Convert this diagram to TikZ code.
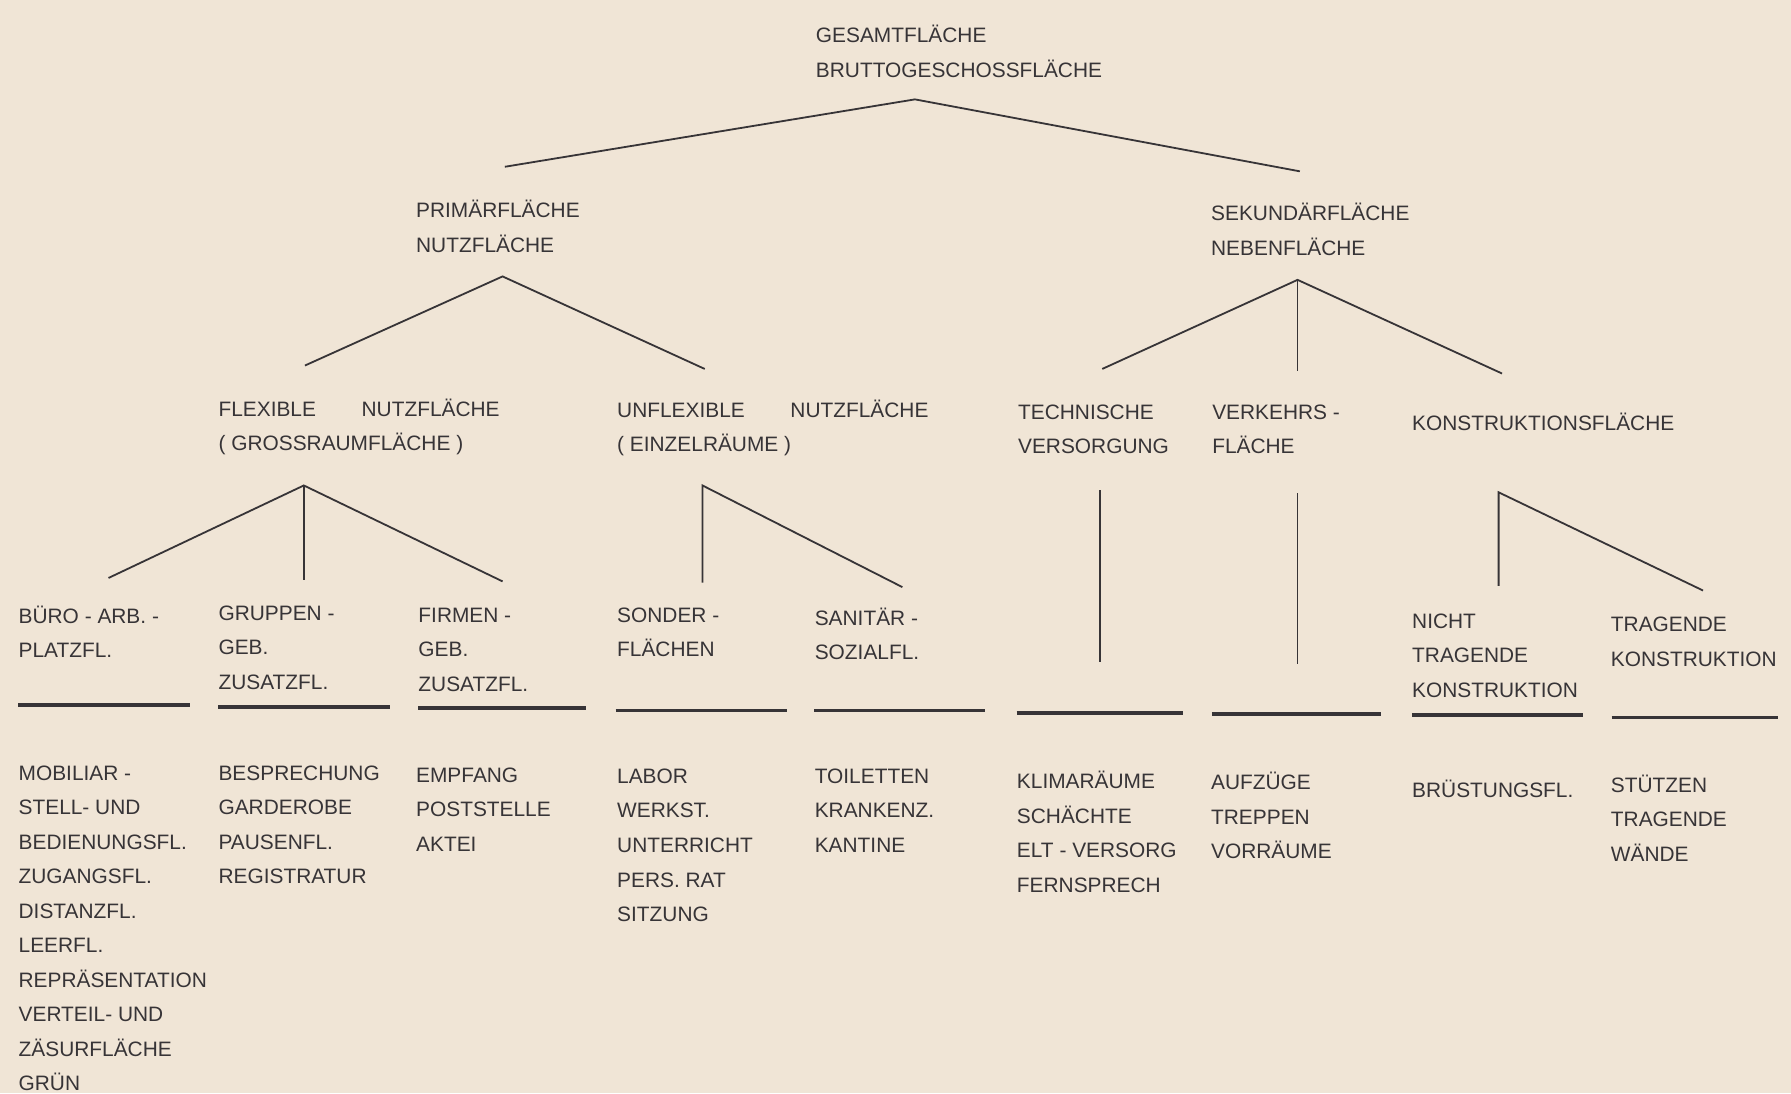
\documentclass[tikz,border=0pt]{standalone}
\usepackage{fontspec}
\setmainfont{Liberation Sans}
\usepackage{tikz}
\usetikzlibrary{positioning}
\definecolor{paper}{RGB}{240,229,214}
\definecolor{ink}{RGB}{55,52,55}

\begin{document}
\begin{tikzpicture}[
    x=0.02cm, y=-0.02cm,
    lbl/.style={anchor=north west,inner sep=0pt,align=left,text=ink,
                font=\fontsize{10.4}{17.2}\selectfont,yshift=0.164cm,
                execute at begin node=\strut},
    ast/.style={draw=ink,line width=0.9pt,line join=miter},
    bar/.style={draw=ink,line width=1.8pt}
  ]
    \fill[paper] (0,0) rectangle (1568,957);
    \useasboundingbox (0,0) rectangle (1568,957);

    \node[lbl] (gesamt) at (714,30) {GESAMTFLÄCHE\\BRUTTOGESCHOSSFLÄCHE};
    \node[lbl] (prim) at (364,183) {PRIMÄRFLÄCHE\\NUTZFLÄCHE};
    \node[lbl] (sek) at (1060,186) {SEKUNDÄRFLÄCHE\\NEBENFLÄCHE};

    \node[lbl] (flex) at (191,357) {FLEXIBLE\hspace{0.8cm}NUTZFLÄCHE\\( GROSSRAUMFLÄCHE )};
    \node[lbl] (unflex) at (540,358) {UNFLEXIBLE\hspace{0.8cm}NUTZFLÄCHE\\( EINZELRÄUME )};
    \node[lbl] (techv) at (891,362) {TECHNISCHE\\VERSORGUNG};
    \node[lbl] (verk) at (1061,362) {VERKEHRS -\\FLÄCHE};
    \node[lbl] (konstr) at (1236,364) {KONSTRUKTIONSFLÄCHE};

    \node[lbl] (buero) at (16,538) {BÜRO - ARB. -\\PLATZFL.};
    \node[lbl] (gruppen) at (191,538) {GRUPPEN -\\GEB.\\ZUSATZFL.};
    \node[lbl] (firmen) at (366,540) {FIRMEN -\\GEB.\\ZUSATZFL.};
    \node[lbl] (sonder) at (540,540) {SONDER -\\FLÄCHEN};
    \node[lbl] (sanitaer) at (713,540) {SANITÄR -\\SOZIALFL.};
    \node[lbl] (nichttr) at (1236,545) {NICHT\\TRAGENDE\\KONSTRUKTION};
    \node[lbl] (tragend) at (1410,548) {TRAGENDE\\KONSTRUKTION};

    \node[lbl] (l-buero) at (16,678) {MOBILIAR -\\STELL- UND\\BEDIENUNGSFL.\\ZUGANGSFL.\\DISTANZFL.\\LEERFL.\\REPRÄSENTATION\\VERTEIL- UND\\ZÄSURFLÄCHE\\GRÜN};
    \node[lbl] (l-gruppen) at (191,678) {BESPRECHUNG\\GARDEROBE\\PAUSENFL.\\REGISTRATUR};
    \node[lbl] (l-firmen) at (364,680) {EMPFANG\\POSTSTELLE\\AKTEI};
    \node[lbl] (l-sonder) at (540,681) {LABOR\\WERKST.\\UNTERRICHT\\PERS. RAT\\SITZUNG};
    \node[lbl] (l-sanitaer) at (713,681) {TOILETTEN\\KRANKENZ.\\KANTINE};
    \node[lbl] (l-techv) at (890,683) {KLIMARÄUME\\SCHÄCHTE\\ELT - VERSORG\\FERNSPRECH};
    \node[lbl] (l-verk) at (1060,684) {AUFZÜGE\\TREPPEN\\VORRÄUME};
    \node[lbl] (l-nichttr) at (1236,685) {BRÜSTUNGSFL.};
    \node[lbl] (l-tragend) at (1410,686) {STÜTZEN\\TRAGENDE\\WÄNDE};

    \coordinate (g-top) at (801,87);
    \coordinate (g-l) at (442,146);
    \coordinate (g-r) at (1138,150);
    \coordinate (p-top) at (440,242);
    \coordinate (p-l) at (267,320);
    \coordinate (p-r) at (617,323);
    \coordinate (s-top) at (1136,245);
    \coordinate (s-l) at (965,323);
    \coordinate (s-m) at (1136,325);
    \coordinate (s-r) at (1315,327);
    \coordinate (f-top) at (266,425);
    \coordinate (f-l) at (95,506);
    \coordinate (f-m) at (266,508);
    \coordinate (f-r) at (440,509);
    \coordinate (u-top) at (615,425);
    \coordinate (u-m) at (615,510);
    \coordinate (u-r) at (790,514);
    \coordinate (t-top) at (963,429);
    \coordinate (t-bot) at (963,580);
    \coordinate (v-top) at (1136,432);
    \coordinate (v-bot) at (1136,581);
    \coordinate (k-top) at (1312,431);
    \coordinate (k-m) at (1312,513);
    \coordinate (k-r) at (1491,517);

    \draw[ast] (g-l) -- (g-top) -- (g-r);
    \draw[ast] (p-l) -- (p-top) -- (p-r);
    \draw[ast] (s-l) -- (s-top) -- (s-r);
    \draw[ast] (s-top) -- (s-m);
    \draw[ast] (f-l) -- (f-top) -- (f-r);
    \draw[ast] (f-top) -- (f-m);
    \draw[ast] (u-m) -- (u-top) -- (u-r);
    \draw[ast] (t-top) -- (t-bot);
    \draw[ast] (v-top) -- (v-bot);
    \draw[ast] (k-m) -- (k-top) -- (k-r);

    \foreach \xa/\xb/\yb in {16/166/617,191/341/619,366/513/620,539/689/622,713/862/622,
                             890/1036/624,1061/1209/625,1236/1386/626,1411/1557/628}
      \draw[bar] (\xa,\yb) -- (\xb,\yb);
  \end{tikzpicture}
\end{document}
